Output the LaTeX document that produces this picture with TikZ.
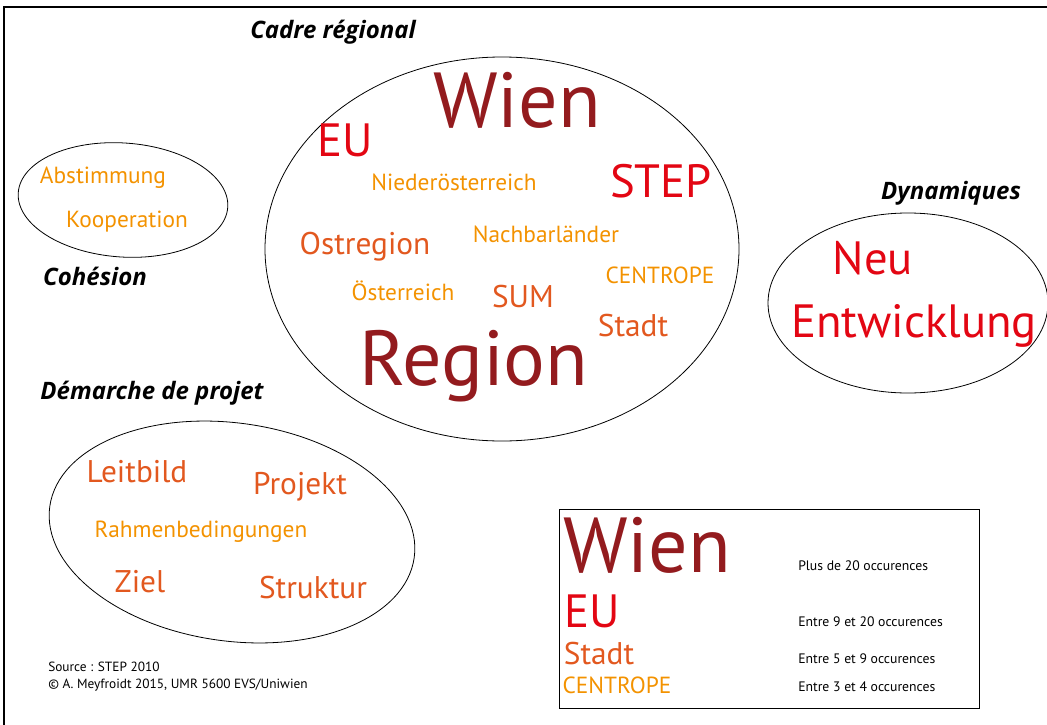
\documentclass[tikz,border=0pt]{standalone}
\usepackage{fontspec}
\setmainfont{PT Sans}
\newfontfamily\titrefont{Open Sans}
\usetikzlibrary{positioning}

% couleurs des classes d'occurrences
\definecolor{classeA}{HTML}{931B1E}
\definecolor{classeB}{HTML}{E30613}
\definecolor{classeC}{HTML}{E2581F}
\definecolor{classeD}{HTML}{F39200}

\begin{document}
\begin{tikzpicture}[x=0.75pt, y=-0.75pt,
    mot/.style={inner sep=0pt},
    motA/.style={mot, classeA, font=\fontsize{58.5}{62}\selectfont},
    motB/.style={mot, classeB, font=\fontsize{35}{40}\selectfont},
    motC/.style={mot, classeC, font=\fontsize{23.5}{26}\selectfont},
    motD/.style={mot, classeD, font=\fontsize{17.5}{20}\selectfont},
    titre/.style={inner sep=0pt, font=\titrefont\fontsize{18}{21}\selectfont\bfseries\itshape},
    legende/.style={inner sep=0pt, anchor=west, font=\fontsize{10.3}{12}\selectfont},
    contour/.style={draw=black, line width=0.6pt}
]
    \useasboundingbox (0,0) rectangle (1047,725);
    \clip (0,0) rectangle (1047,725);

    % Cadre
    \draw[line width=0.8pt] (4,7) rectangle (1060,740);

    % ---- Cadre régional ----
    \node[titre] (cadre) at (333,32) {Cadre régional};
    \draw[contour] (502,249) ellipse [x radius=237, y radius=192];
    \node[motA] (wien) at (517,100) {Wien};
    \node[motB] (eu) at (345,140) {EU};
    \node[motD] (noe) at (454,182) {Niederösterreich};
    \node[motB] (step) at (661,181) {STEP};
    \node[motD] (nachbar) at (546,234) {Nachbarländer};
    \node[motC] (ostregion) at (365,247) {Ostregion};
    \node[motD] (centrope) at (660,275) {CENTROPE};
    \node[motD] (oesterreich) at (403,291) {Österreich};
    \node[motC] (sum) at (523,297) {SUM};
    \node[motC] (stadt) at (633,326) {Stadt};
    \node[motA] (region) at (474,366) {Region};

    % ---- Cohésion ----
    \draw[contour, rotate around={-4:(123,200)}] (123,200) ellipse [x radius=105, y radius=57];
    \node[motD] (abstimmung) at (103,178) {Abstimmung};
    \node[motD] (kooperation) at (127,222) {Kooperation};
    \node[titre] (cohesion) at (95,276) {Cohésion};

    % ---- Dynamiques ----
    \node[titre] (dynamiques) at (951,193) {Dynamiques};
    \draw[contour] (908,303) ellipse [x radius=140, y radius=90];
    \node[motB] (neu) at (873,258) {Neu};
    \node[motB] (entwicklung) at (914,326) {Entwicklung};

    % ---- Démarche de projet ----
    \node[titre] (demarche) at (152,393) {Démarche de projet};
    \draw[contour, rotate around={-8:(232,532)}] (232,532) ellipse [x radius=184, y radius=109];
    \node[motC] (leitbild) at (137,472) {Leitbild};
    \node[motC] (projekt) at (300,487) {Projekt};
    \node[motD] (rahmen) at (201,532) {Rahmenbedingungen};
    \node[motC] (ziel) at (140,582) {Ziel};
    \node[motC] (struktur) at (313,588) {Struktur};

    % Source
    \node[legende, font=\fontsize{10}{12}\selectfont] (source) at (48,667) {Source : STEP 2010};
    \node[legende, font=\fontsize{10}{12}\selectfont] (copyright) at (48,685) {© A. Meyfroidt 2015, UMR 5600 EVS/Uniwien};

    % ---- Légende ----
    \draw[line width=0.6pt] (559,509) rectangle (979,708);
    \foreach \nom/\style/\x/\y/\mot in {
        legA/motA/647/545/Wien,
        legB/motB/592/611/EU,
        legC/motC/599/654/Stadt,
        legD/motD/617/685/CENTROPE
    }{
        \node[\style] (\nom) at (\x,\y) {\mot};
    }
    \node[legende] (txtA) at (798,566) {Plus de 20 occurences};
    \node[legende] (txtB) at (798,622) {Entre 9 et 20 occurences};
    \node[legende] (txtC) at (798,659) {Entre 5 et 9 occurences};
    \node[legende] (txtD) at (798,687) {Entre 3 et 4 occurences};

\end{tikzpicture}
\end{document}
